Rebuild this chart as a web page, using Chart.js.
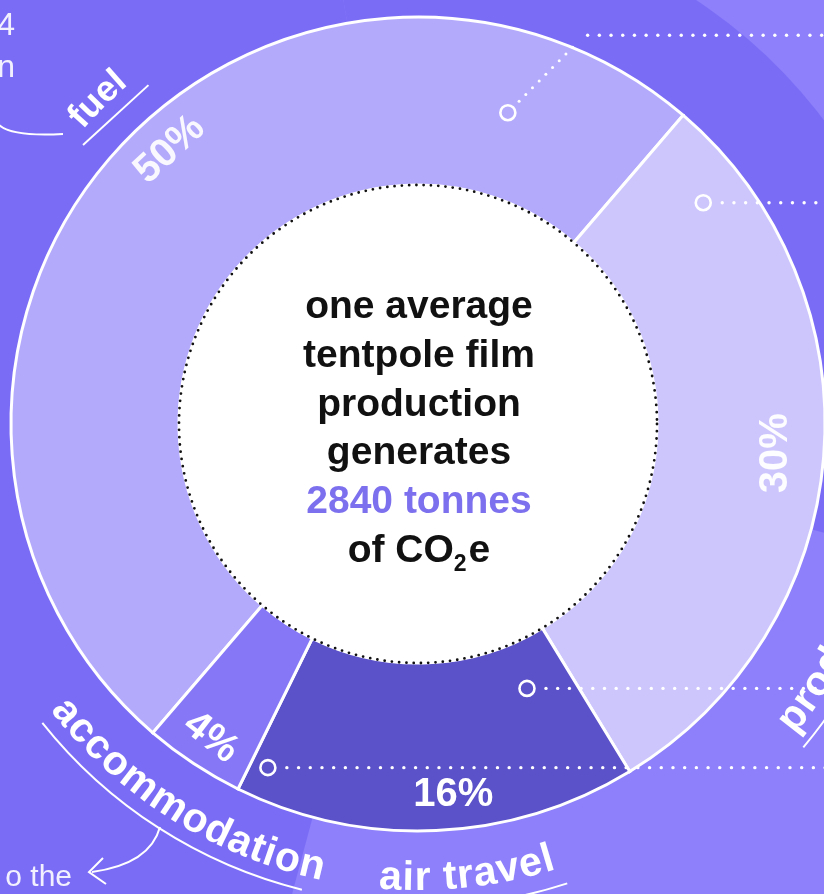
<!DOCTYPE html>
<html>
<head>
<meta charset="utf-8">
<script src="https://cdn.jsdelivr.net/npm/chart.js@4/dist/chart.umd.min.js"></script>
<style>
  html, body { margin:0; padding:0; overflow:hidden; width:824px; height:894px; background:#7b6cf6; }
  #wrap { position:absolute; left:0; top:0; width:840px; height:894px; }
</style>
</head>
<body>
<div id="wrap"><canvas id="c"></canvas></div>
<script>
// ---------------- data ----------------
const categories   = ['fuel', 'production', 'air travel', 'accommodation'];
const shares       = [50, 30, 16, 4];            // share of CO2e, %
const shareLabels  = ['50%', '30%', '16%', '4%'];
const headline     = ['one average', 'tentpole film', 'production', 'generates'];
const totalTonnes  = 2840;
const unitPrefix   = 'of CO';
const unitSub      = '2';
const unitSuffix   = 'e';
const sideTexts    = ['4', 'n', 'o the'];        // cropped text fragments at the edge

// ---------------- style ----------------
const FONT = '"Liberation Sans", Arial, Helvetica, sans-serif';
const S = { dark:'#7b6cf6', light:'#8d80fa', accent:'#7d70ee', ink:'#111111', white:'#ffffff' };
const segColors = ['#b4aafc', '#ccc6fd', '#5b51c8', '#8677f7'];
const pctStyle = [
  { frac:0.54, r:370, rot:-43, alpha:0.92 },
  { frac:0.50, r:359, rot:-90, alpha:0.95 },
  { frac:0.45, r:373, rot:0,   alpha:1 },
  { frac:0.50, r:376, rot:38,  alpha:1 }
];
const catStyle = [
  { mode:'out', mid:315.4, r:446, size:36, ul:{ from:[309.8,436], to:[321.5,433], straight:true } },
  { mode:'in',  start:129.5, r:488, size:41, ul:{ arc:true, a0:100, a1:130, r:503 } },
  { mode:'in',  mid:173.8, r:466, size:41, ul:{ arc:true, a0:162, a1:185, r:483 } },
  { mode:'in',  mid:212.0, r:466, size:41, ul:{ arc:true, a0:194, a1:231.5, r:480 } }
];
const leaders = [
  { at:[16.1, 324], via:[23.2, 423] },
  { at:[52.2, 361] },
  { at:[157.6, 286] },
  { at:[203.6, 375] }
];

const rad = d => (d - 90) * Math.PI / 180;   // clockwise-from-top degrees -> canvas radians

const bgPlugin = {
  id: 'bg',
  beforeDraw(chart) {
    const ctx = chart.ctx;
    const a = chart.getDatasetMeta(0).data[0];
    const cx = a.x, cy = a.y;
    ctx.save();
    ctx.fillStyle = S.dark;
    ctx.fillRect(0, 0, chart.width, chart.height);
    ctx.fillStyle = S.light;
    ctx.beginPath(); ctx.moveTo(cx, cy); ctx.arc(cx, cy, 1500, rad(-10), rad(195)); ctx.closePath(); ctx.fill();
    ctx.fillStyle = S.dark;
    ctx.beginPath(); ctx.moveTo(cx, cy); ctx.arc(cx, cy, 507, rad(-10), rad(105)); ctx.closePath(); ctx.fill();
    ctx.restore();
  }
};

function arcText(ctx, text, cx, cy, r, midDeg, mode, font, spacing) {
  ctx.save();
  ctx.font = font;
  ctx.textAlign = 'center';
  ctx.textBaseline = 'alphabetic';
  const chars = [...text];
  const widths = chars.map(ch => ctx.measureText(ch).width);
  const total = widths.reduce((s, w) => s + w, 0) + spacing * (chars.length - 1);
  const sign = mode === 'out' ? 1 : -1;
  let th = midDeg * Math.PI / 180 - sign * total / (2 * r);
  chars.forEach((ch, i) => {
    const w = widths[i];
    const a = th + sign * (w / 2) / r;
    ctx.save();
    ctx.translate(cx + r * Math.sin(a), cy - r * Math.cos(a));
    ctx.rotate(mode === 'out' ? a : a + Math.PI);
    ctx.fillText(ch, 0, 0);
    ctx.restore();
    th += sign * (w + spacing) / r;
  });
  ctx.restore();
  return total;
}

function dots(ctx, x1, y1, x2, y2, gap, rr) {
  const len = Math.hypot(x2 - x1, y2 - y1);
  const n = Math.floor(len / gap);
  for (let i = 0; i <= n; i++) {
    const t = (i * gap) / len;
    ctx.beginPath();
    ctx.arc(x1 + (x2 - x1) * t, y1 + (y2 - y1) * t, rr, 0, Math.PI * 2);
    ctx.fill();
  }
}

const overlay = {
  id: 'overlay',
  afterDatasetsDraw(chart) {
    const ctx = chart.ctx;
    const meta = chart.getDatasetMeta(0);
    const a0 = meta.data[0];
    const cx = a0.x, cy = a0.y, rIn = a0.innerRadius;
    const pol = (deg, r) => ({ x: cx + r * Math.sin(deg * Math.PI / 180), y: cy - r * Math.cos(deg * Math.PI / 180) });
    const toDeg = a => a * 180 / Math.PI + 90;
    const W = chart.width;

    // centre disc
    ctx.save();
    ctx.fillStyle = '#ffffff';
    ctx.beginPath(); ctx.arc(cx, cy, rIn + 1, 0, Math.PI * 2); ctx.fill();
    ctx.strokeStyle = '#111';
    ctx.lineWidth = 2.8;
    ctx.lineCap = 'round';
    ctx.setLineDash([0, 7.3]);
    ctx.beginPath(); ctx.arc(cx, cy, rIn, 0, Math.PI * 2); ctx.stroke();
    ctx.restore();

    // centre text
    ctx.save();
    ctx.textAlign = 'center';
    ctx.textBaseline = 'alphabetic';
    ctx.font = 'bold 39px ' + FONT;
    ctx.fillStyle = S.ink;
    const lh = 48.8, base0 = cy - 106;
    headline.forEach((t, i) => ctx.fillText(t, cx + 1, base0 + i * lh));
    ctx.fillStyle = S.accent;
    ctx.fillText(totalTonnes + ' tonnes', cx + 1, base0 + 4 * lh);
    ctx.fillStyle = S.ink;
    ctx.textAlign = 'left';
    const big = 'bold 39px ' + FONT, small = 'bold 23px ' + FONT;
    ctx.font = big; const w1 = ctx.measureText(unitPrefix).width;
    ctx.font = small; const w2 = ctx.measureText(unitSub).width;
    ctx.font = big; const w3 = ctx.measureText(unitSuffix).width;
    let x = cx + 1 - (w1 + w2 + w3 + 2) / 2;
    const yb = base0 + 5 * lh;
    ctx.font = big; ctx.fillText(unitPrefix, x, yb); x += w1;
    ctx.font = small; ctx.fillText(unitSub, x, yb + 9); x += w2 + 2;
    ctx.font = big; ctx.fillText(unitSuffix, x, yb);
    ctx.restore();

    // percentage labels inside segments
    meta.data.forEach((arc, i) => {
      const s = toDeg(arc.startAngle), e = toDeg(arc.endAngle);
      const st = pctStyle[i];
      const p = pol(s + st.frac * (e - s), st.r);
      ctx.save();
      ctx.translate(p.x, p.y);
      ctx.rotate(st.rot * Math.PI / 180);
      ctx.font = 'bold 40px ' + FONT;
      ctx.textAlign = 'center';
      ctx.textBaseline = 'middle';
      ctx.fillStyle = 'rgba(255,255,255,' + st.alpha + ')';
      ctx.fillText(shareLabels[i], 0, 0);
      ctx.restore();
    });

    // leader markers and dotted lines
    ctx.save();
    ctx.fillStyle = '#ffffff';
    ctx.strokeStyle = '#ffffff';
    leaders.forEach(L => {
      const m = pol(L.at[0], L.at[1]);
      ctx.lineWidth = 2.6;
      ctx.beginPath(); ctx.arc(m.x, m.y, 7.5, 0, Math.PI * 2); ctx.stroke();
      if (L.via) {
        const v = pol(L.via[0], L.via[1]);
        const dx = v.x - m.x, dy = v.y - m.y, d = Math.hypot(dx, dy);
        dots(ctx, m.x + dx / d * 16, m.y + dy / d * 16, v.x - dx / d * 8, v.y - dy / d * 8, 9.5, 1.5);
        dots(ctx, v.x + 3, v.y, W, v.y, 11.7, 1.7);
      } else {
        dots(ctx, m.x + 19, m.y, W, m.y, 11.7, 1.7);
      }
    });
    ctx.restore();

    // category labels along the ring
    ctx.save();
    ctx.fillStyle = '#ffffff';
    ctx.strokeStyle = '#ffffff';
    categories.forEach((name, i) => {
      const st = catStyle[i];
      const font = 'bold ' + st.size + 'px ' + FONT;
      if (st.mid !== undefined) {
        arcText(ctx, name, cx, cy, st.r, st.mid, st.mode, font, st.mode === 'out' ? 0 : 1);
      } else {
        ctx.font = font;
        const chars = [...name];
        const total = chars.reduce((s, ch) => s + ctx.measureText(ch).width, 0) + (chars.length - 1);
        const mid = st.start - (total / 2) / st.r * 180 / Math.PI;
        arcText(ctx, name, cx, cy, st.r, mid, st.mode, font, 1);
      }
      const u = st.ul;
      ctx.lineWidth = 2;
      ctx.beginPath();
      if (u.straight) {
        const p1 = pol(u.from[0], u.from[1]), p2 = pol(u.to[0], u.to[1]);
        ctx.moveTo(p1.x, p1.y); ctx.lineTo(p2.x, p2.y);
      } else {
        ctx.arc(cx, cy, u.r, rad(u.a0), rad(u.a1));
      }
      ctx.stroke();
    });

    // connector lines and arrow
    ctx.lineWidth = 2;
    ctx.beginPath();
    ctx.moveTo(cx - 420, cy - 300);
    ctx.quadraticCurveTo(cx - 408, cy - 287, cx - 355, cy - 290);
    ctx.stroke();
    ctx.beginPath();
    ctx.moveTo(cx - 258, cy + 403);
    ctx.quadraticCurveTo(cx - 268, cy + 440, cx - 326, cy + 448);
    ctx.stroke();
    ctx.beginPath();
    ctx.moveTo(cx - 315, cy + 434);
    ctx.lineTo(cx - 329, cy + 448);
    ctx.lineTo(cx - 312, cy + 460);
    ctx.stroke();

    // cropped side fragments
    ctx.font = '32px ' + FONT;
    ctx.textAlign = 'right';
    ctx.textBaseline = 'alphabetic';
    ctx.fillStyle = 'rgba(255,255,255,0.9)';
    ctx.fillText(sideTexts[0], cx - 403, cy - 389);
    ctx.fillText(sideTexts[1], cx - 403, cy - 347);
    ctx.font = '30px ' + FONT;
    ctx.fillText(sideTexts[2], cx - 346, cy + 462);
    ctx.restore();
  }
};

new Chart(document.getElementById('c'), {
  type: 'doughnut',
  data: {
    labels: categories,
    datasets: [{
      data: shares,
      backgroundColor: segColors,
      borderColor: '#ffffff',
      borderWidth: 3,
      borderAlign: 'center',
      borderJoinStyle: 'miter'
    }]
  },
  options: {
    responsive: true,
    maintainAspectRatio: false,
    animation: false,
    events: [],
    rotation: -139.35,
    cutout: 239,
    layout: { padding: { left: 9.5, right: 13.5, top: 15.5, bottom: 61.5 } },
    plugins: { legend: { display: false }, tooltip: { enabled: false } }
  },
  plugins: [bgPlugin, overlay]
});
</script>
</body>
</html>
